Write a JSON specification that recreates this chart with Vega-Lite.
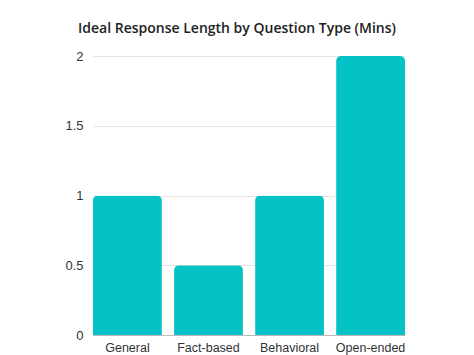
{
  "$schema": "https://vega.github.io/schema/vega-lite/v6.json",
  "width": 312,
  "height": 279,
  "autosize": "none",
  "padding": {"left": 93, "top": 56, "right": 69, "bottom": 20},
  "background": "white",
  "title": {
    "text": "Ideal Response Length by Question Type (Mins)",
    "font": "Open Sans",
    "fontSize": 14,
    "fontWeight": 600,
    "color": "#222222",
    "anchor": "middle",
    "dx": -12,
    "offset": 14
  },
  "data": {
    "values": [
      {"type": "General", "mins": 1},
      {"type": "Fact-based", "mins": 0.5},
      {"type": "Behavioral", "mins": 1},
      {"type": "Open-ended", "mins": 2}
    ]
  },
  "mark": {"type": "bar", "color": "#05C2C7", "cornerRadiusTopLeft": 5, "cornerRadiusTopRight": 5},
  "encoding": {
    "x": {
      "field": "type",
      "type": "nominal",
      "sort": null,
      "scale": {"paddingInner": 0.15, "paddingOuter": 0},
      "axis": {
        "title": null,
        "labelAngle": 0,
        "ticks": false,
        "domainColor": "#bbbbbb",
        "labelFont": "Liberation Sans",
        "labelFontSize": 12.5,
        "labelColor": "#333333",
        "labelPadding": 6
      }
    },
    "y": {
      "field": "mins",
      "type": "quantitative",
      "scale": {"domain": [0, 2]},
      "axis": {
        "title": null,
        "values": [0, 0.5, 1, 1.5, 2],
        "format": "~g",
        "ticks": false,
        "domain": false,
        "gridColor": "#e3e3e3",
        "labelFont": "Liberation Sans",
        "labelFontSize": 13,
        "labelColor": "#333333",
        "labelPadding": 10
      }
    }
  },
  "config": {"view": {"stroke": null}}
}
